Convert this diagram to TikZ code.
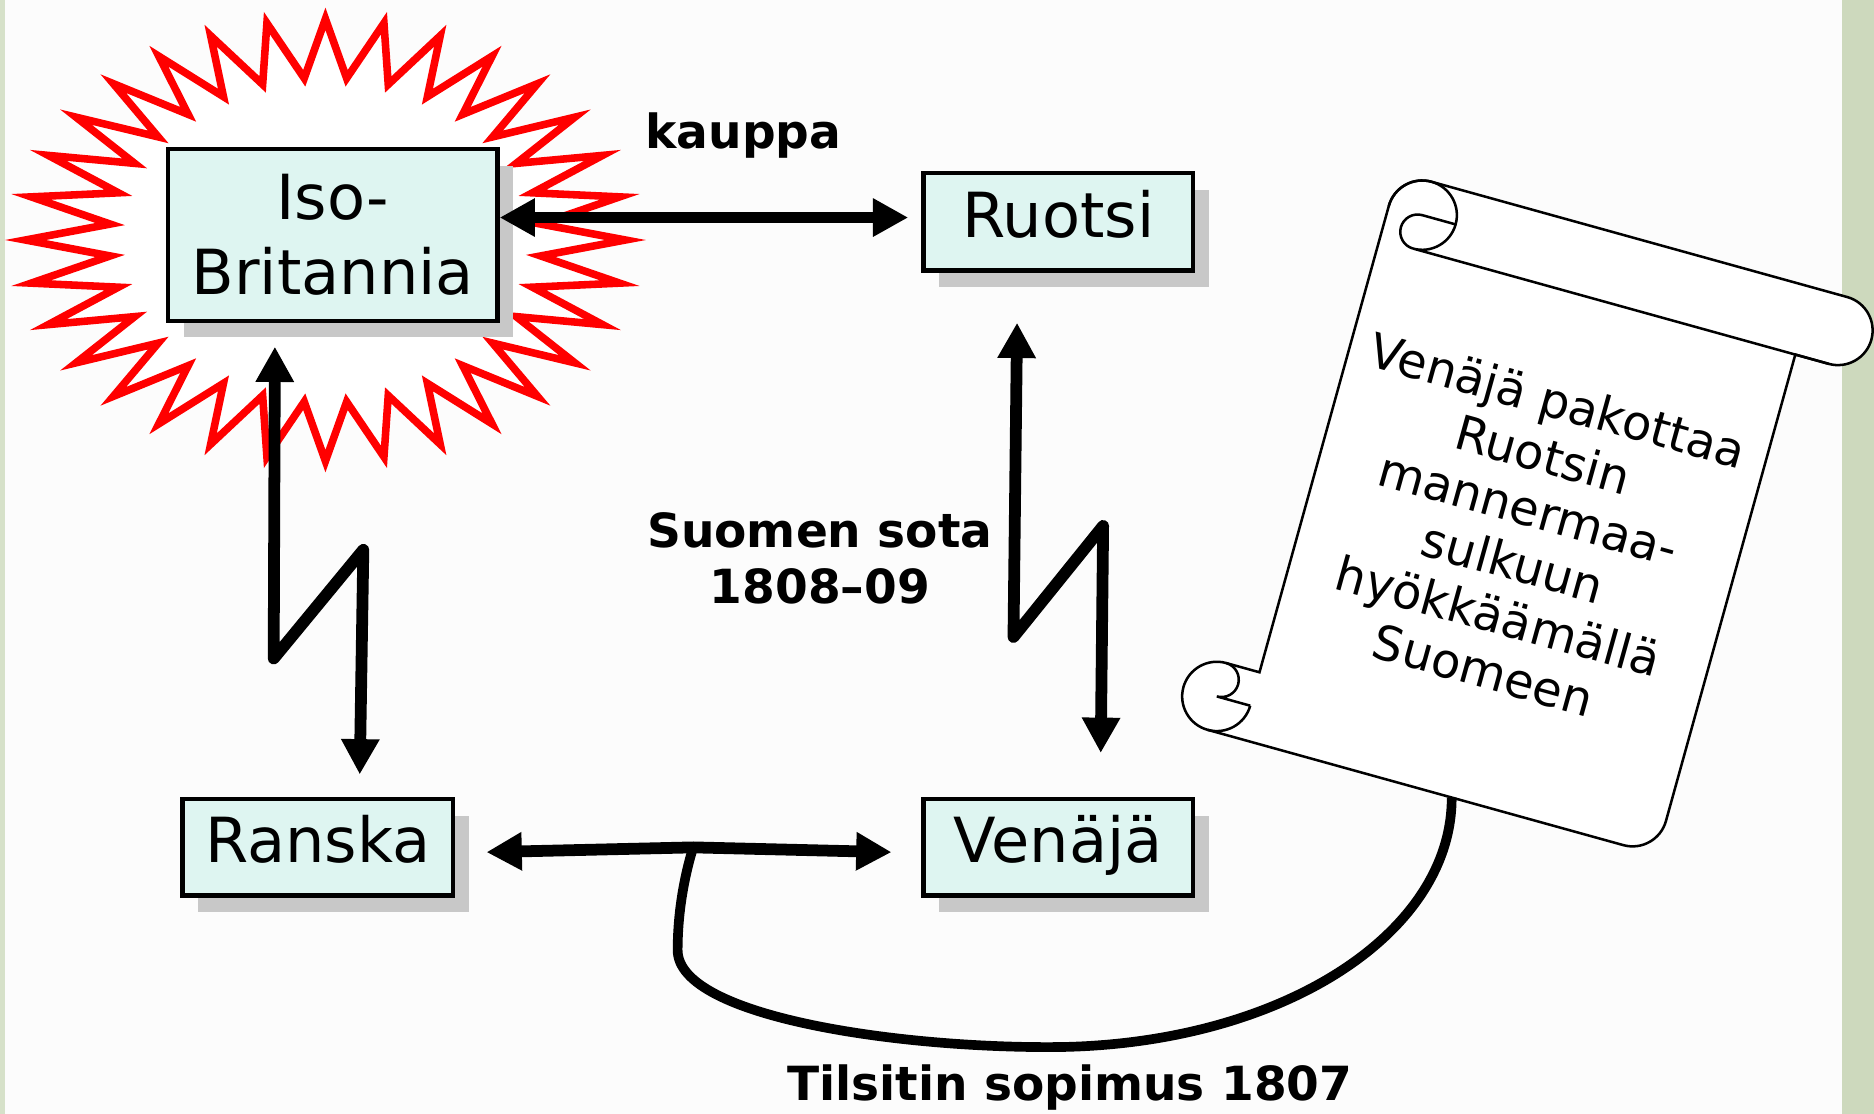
\documentclass[tikz,border=0pt]{standalone}
\usepackage{fontspec}
\setmainfont{DejaVu Sans}
\usetikzlibrary{arrows.meta,shadows,calc}
\definecolor{boxfill}{RGB}{222,245,241}
\definecolor{shadowgray}{RGB}{200,200,200}
\definecolor{pagebg}{RGB}{252,252,252}
\definecolor{bandgreen}{RGB}{205,217,189}
\definecolor{stripegreen}{RGB}{214,225,201}
\begin{document}
\begin{tikzpicture}
  [x=0.01cm, y=-0.01cm]
  \tikzstyle{box} = [draw=black, line width=1pt, fill=boxfill, inner sep=0pt, font=\fontsize{14.8}{17.9}\selectfont, general shadow={fill=shadowgray, shadow xshift=0.13cm, shadow yshift=-0.14cm}];
  \tikzstyle{one_line} = [box, text height=0.73em, text depth=0pt];
  \tikzstyle{label_text} = [font=\fontsize{11.2}{13.4}\selectfont\bfseries, align=center];
  \tikzstyle{scroll_text} = [font=\fontsize{11.4}{13.3}\selectfont, align=center];
  \tikzstyle{dbl_arrow} = [line width=2.8pt, {Triangle[length=8.4pt,width=8.6pt]}-{Triangle[length=8.4pt,width=8.6pt]}];
  \tikzstyle{bolt} = [dbl_arrow, line join=round];
  \tikzstyle{burst} = [draw=red, line width=1.8pt, fill=white];
  \tikzstyle{scroll} = [draw=black, line width=0.6pt];

  \useasboundingbox (0,0) rectangle (1568,932);
  \fill[pagebg] (0,0) rectangle (1568,932);
  \fill[bandgreen] (1541,0) rectangle (1568,932);
  \fill[stripegreen] (0,0) rectangle (4,932);

  \draw[burst] (523.3,200.8) \foreach \k in {0,...,31} {
    -- ({272.3+181*cos(\k*11.25+5.625)}, {200.8+136*sin(\k*11.25+5.625)})
    -- ({272.3+251*cos(\k*11.25+11.25)}, {200.8+185*sin(\k*11.25+11.25)}) } -- cycle;

  \node[box, align=center, minimum width=2.755cm, minimum height=1.435cm] (ib) at (278.5, 196.5) {Iso-\\Britannia};
  \node[one_line, minimum width=2.255cm, minimum height=0.815cm] (ruotsi) at (885.5, 185.5) {Ruotsi};
  \node[one_line, minimum width=2.265cm, minimum height=0.805cm] (ranska) at (266, 709) {Ranska};
  \node[one_line, minimum width=2.255cm, minimum height=0.805cm] (venaja) at (885.5, 709) {Venäjä};

  \coordinate (tj) at (580, 709);

  \draw[dbl_arrow] ($(ib.east)+(0,-14.5)$) -- ($(ruotsi.west)+(-11,-3.5)$);
  \draw[dbl_arrow] ($(ranska.east)+(26,4)$) -- (tj) -- ($(venaja.west)+(-25,4)$);
  \draw[bolt] ($(ib.south)+(-48.5,20)$) -- (229, 551) -- (304, 460) -- ($(ranska.north)+(35,-19)$);
  \draw[bolt] ($(ruotsi.south)+(-34.5,42)$) -- (848, 533) -- (923, 440) -- ($(venaja.north)+(35.5,-37)$);

  \begin{scope}[shift={(1190,180)}, rotate=-15.5]
    \filldraw[scroll, fill=white] (0,-29) -- (361,-29) arc[start angle=-90, end angle=90, radius=29]
      -- (332,29) -- (332,434) arc[start angle=0, end angle=90, radius=29]
      -- (-58,463) arc[start angle=90, end angle=270, radius=29]
      -- (-29,405) -- (-29,0) arc[start angle=180, end angle=270, radius=29] -- cycle;
    \draw[scroll] (-29,0) arc[start angle=180, end angle=450, radius=29] -- (361,29);
    \draw[scroll] (29,0) -- (0,0) arc[start angle=270, end angle=90, radius=14.5];
    \draw[scroll] (-58,463) arc[start angle=90, end angle=0, radius=29];
    \draw[scroll] (-58,405) arc[start angle=270, end angle=450, radius=14.5] -- (-29,434);
    \node[scroll_text, rotate=-15.5] (edict) at (151, 236) {Venäjä pakottaa\\Ruotsin\\mannermaa-\\sulkuun\\hyökkäämällä\\Suomeen};
    \coordinate (scroll_foot) at (154, 463);
  \end{scope}

  \draw[line width=2.3pt] (tj) .. controls (572,735) and (567,765) .. (567,795)
    .. controls (567,852) and (760,878) .. (890,876)
    .. controls (1075,872) and (1215,780) .. (scroll_foot);

  \node[label_text] (trade) at (622, 113) {kauppa};
  \node[label_text] (war) at (686, 467) {Suomen sota\\1808–09};
  \node[label_text] (treaty) at (895, 910) {Tilsitin sopimus 1807};

\end{tikzpicture}
\end{document}
